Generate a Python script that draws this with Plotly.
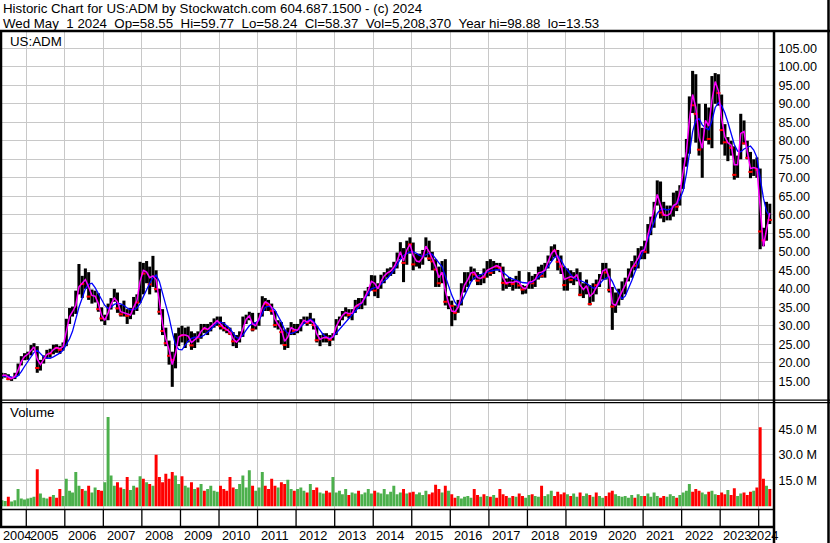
import pandas as pd
import plotly.graph_objects as go

W, H = 830, 543

# ---------------- data (monthly, May 2004 .. Apr 2024) ----------------
first_month = "2004-05-01"

closes = [
    16.5, 16.8, 15.6, 15.7, 16.9, 19.4, 21.0, 22.3,
    22.3, 24.1, 24.5, 18.6, 20.3, 21.4, 22.9, 22.5, 24.6, 24.0, 23.5, 24.7,
    31.5, 33.6, 33.7, 36.3, 41.5, 41.3, 44.0, 37.9, 37.9, 38.5, 34.5, 32.0,
    32.0, 35.5, 36.7, 38.7, 34.7, 33.1, 33.6, 32.7, 33.1, 37.2, 36.3, 46.4,
    44.1, 45.2, 41.2, 44.6, 39.9, 33.8, 28.6, 25.3, 21.9, 20.8, 25.6, 28.8,
    27.4, 27.8, 27.8, 24.7, 27.5, 26.8, 30.3, 29.2, 29.2, 30.1, 31.2, 31.3,
    29.9, 29.4, 28.9, 27.9, 25.8, 25.8, 27.3, 31.9, 31.9, 33.3, 29.0, 30.1,
    32.8, 37.0, 36.0, 35.6, 34.0, 30.2, 30.4, 28.3, 24.8, 28.9, 30.2, 28.6,
    28.6, 31.3, 31.7, 30.8, 31.9, 30.2, 26.1, 26.7, 27.2, 26.8, 26.2, 27.4,
    31.7, 31.7, 33.7, 33.9, 32.9, 33.9, 36.5, 35.4, 36.8, 38.6, 40.3, 43.4,
    39.5, 40.6, 43.4, 43.7, 44.7, 45.0, 46.4, 48.5, 51.1, 47.0, 52.6, 52.0,
    46.6, 47.4, 47.4, 48.9, 52.9, 48.2, 47.4, 45.2, 41.5, 45.7, 36.5, 36.7,
    35.4, 33.5, 36.3, 39.9, 42.8, 42.9, 45.5, 43.9, 42.2, 43.6, 43.1, 45.7,
    44.3, 46.9, 46.0, 45.7, 41.6, 41.4, 42.2, 41.3, 42.5, 40.9, 39.8, 40.1,
    42.9, 41.5, 43.4, 45.4, 43.5, 45.8, 48.3, 50.4, 50.3, 47.3, 46.0, 41.0,
    44.9, 42.4, 43.1, 44.6, 38.4, 40.8, 41.1, 35.9, 41.1, 41.0, 43.0, 46.4,
    44.4, 39.7, 35.2, 37.2, 39.2, 39.9, 42.8, 44.8, 46.5, 46.2, 49.8, 50.4,
    50.0, 56.7, 57.0, 63.1, 66.6, 60.6, 60.0, 60.0, 60.7, 64.2, 62.2, 67.6,
    75.0, 78.4, 90.3, 89.6, 87.3, 77.6, 82.8, 87.9, 80.5, 97.0, 97.6, 92.9,
    82.9, 79.6, 79.7, 78.1, 70.8, 75.6, 85.0, 79.3, 75.4, 71.6, 73.7, 72.2,
    55.5, 53.1, 62.8, 58.6,
]

highs = [
    17.3, 17.2, 16.9, 16.2, 17.3, 19.8, 21.8, 22.6,
    23.0, 24.8, 25.3, 24.5, 20.8, 22.0, 23.5, 23.8, 24.9, 25.0, 24.6, 25.5,
    31.9, 34.8, 35.2, 39.5, 46.7, 43.5, 45.5, 44.5, 39.8, 39.5, 38.8, 35.0,
    33.0, 36.0, 37.5, 40.0, 39.0, 35.7, 36.8, 34.5, 34.8, 37.8, 38.5, 47.3,
    47.0, 47.5, 46.0, 48.9, 45.0, 40.0, 34.5, 29.5, 26.0, 23.0, 28.0, 29.5,
    30.0, 29.5, 29.8, 28.5, 28.0, 28.5, 30.5, 30.5, 30.5, 31.0, 32.0, 32.5,
    32.5, 31.0, 30.0, 29.5, 28.3, 27.5, 28.5, 32.5, 33.0, 33.8, 33.5, 31.0,
    33.5, 38.0, 37.5, 37.0, 36.0, 34.0, 31.5, 31.0, 29.0, 29.5, 31.0, 30.5,
    30.5, 31.8, 32.5, 32.5, 33.5, 32.0, 30.0, 27.5, 28.0, 28.0, 27.5, 28.0,
    31.8, 32.5, 34.0, 35.0, 34.5, 34.5, 37.0, 37.5, 37.5, 39.5, 40.5, 43.7,
    43.6, 41.5, 43.8, 44.5, 45.5, 45.8, 47.3, 49.8, 52.6, 51.0, 53.0, 53.9,
    52.5, 49.5, 49.5, 50.5, 53.9, 53.0, 50.0, 48.0, 46.0, 47.5, 48.0, 38.0,
    36.8, 35.5, 37.0, 41.5, 44.5, 44.5, 46.0, 45.5, 44.5, 44.0, 45.5, 47.5,
    48.0, 47.5, 47.0, 47.0, 46.0, 42.8, 43.2, 42.5, 43.5, 44.8, 41.0, 40.8,
    44.5, 43.5, 44.0, 46.0, 46.5, 47.0, 49.0, 51.5, 52.0, 50.5, 49.0, 46.0,
    45.5, 45.0, 44.5, 45.5, 44.5, 41.5, 42.5, 41.0, 41.5, 42.5, 44.0, 47.0,
    47.0, 45.5, 40.5, 39.0, 40.0, 42.0, 43.0, 45.5, 47.5, 49.0, 51.0, 51.5,
    53.0, 57.5, 59.5, 63.5, 69.3, 69.0, 63.5, 62.5, 62.5, 66.0, 66.5, 68.0,
    75.5, 80.5, 92.0, 98.9, 98.0, 90.0, 83.5, 90.0, 89.0, 97.5, 98.3, 98.0,
    92.5, 84.5, 81.0, 80.0, 78.5, 76.0, 87.3, 85.5, 80.0, 77.0, 75.0, 75.5,
    72.5, 56.5, 63.5, 63.0,
]

lows = [
    15.7, 16.0, 15.3, 15.1, 15.6, 16.5, 19.3, 20.7,
    20.8, 22.0, 23.3, 17.3, 17.9, 19.8, 21.1, 21.4, 22.3, 22.7, 22.4, 23.3,
    24.5, 30.5, 32.5, 33.2, 38.5, 37.5, 40.0, 37.0, 36.0, 36.3, 33.8, 31.2,
    30.2, 31.5, 34.4, 36.5, 33.5, 32.5, 32.5, 30.5, 31.8, 33.0, 34.0, 36.2,
    38.5, 41.5, 38.5, 40.5, 39.0, 33.0, 27.5, 24.5, 19.5, 13.5, 18.5, 24.5,
    25.5, 24.0, 25.5, 23.5, 24.0, 25.5, 26.5, 28.0, 27.5, 28.5, 29.5, 30.0,
    29.0, 28.5, 28.0, 27.5, 24.5, 24.0, 25.5, 27.0, 30.5, 31.5, 28.5, 29.0,
    30.0, 32.5, 34.0, 34.0, 33.0, 29.5, 29.0, 25.0, 23.5, 24.0, 27.5, 27.5,
    28.0, 28.5, 30.5, 30.0, 30.5, 29.0, 25.5, 24.5, 25.5, 25.5, 24.5, 26.0,
    27.5, 30.0, 31.5, 32.5, 32.0, 31.5, 33.5, 34.5, 34.5, 35.5, 38.0, 39.5,
    38.0, 37.5, 40.0, 41.5, 43.0, 43.5, 44.0, 45.5, 48.0, 41.8, 46.5, 49.5,
    45.0, 46.0, 45.5, 46.5, 48.5, 47.5, 45.0, 40.5, 40.5, 41.5, 35.5, 34.5,
    29.9, 31.5, 33.5, 35.5, 39.0, 40.5, 42.0, 42.5, 41.0, 41.0, 41.5, 43.0,
    43.5, 44.0, 45.0, 44.5, 39.5, 40.0, 40.5, 39.5, 40.0, 40.0, 38.5, 38.7,
    40.0, 40.0, 40.5, 42.5, 43.0, 43.0, 45.5, 47.5, 48.5, 45.0, 44.0, 39.5,
    39.5, 41.5, 41.0, 42.0, 38.0, 37.5, 38.5, 35.5, 36.5, 38.5, 40.5, 42.5,
    42.5, 39.0, 28.9, 33.5, 35.5, 37.0, 38.5, 42.0, 43.0, 45.0, 45.5, 48.0,
    48.0, 49.5, 54.5, 56.5, 62.5, 59.0, 58.0, 58.5, 58.5, 59.5, 61.0, 62.5,
    67.0, 73.0, 76.5, 87.5, 79.5, 76.0, 70.0, 80.0, 79.0, 78.0, 90.0, 89.5,
    79.0, 76.0, 74.5, 76.0, 69.5, 70.0, 75.0, 79.0, 75.0, 69.9, 70.5, 70.0,
    50.7, 51.5, 53.0, 57.5,
]

ma_short = [
    16.6, 16.7, 16.1, 15.7, 16.3, 18.0, 20.3, 21.7,
    22.3, 23.4, 24.3, 21.0, 19.5, 20.9, 22.3, 22.6, 23.6, 24.1, 23.8, 24.3,
    28.5, 32.5, 33.8, 35.5, 40.5, 41.5, 42.5, 40.5, 38.2, 38.0, 36.0, 32.8,
    31.5, 33.5, 35.8, 37.5, 36.5, 33.8, 33.5, 33.0, 32.9, 35.0, 36.8, 42.0,
    45.0, 44.5, 43.0, 43.5, 42.5, 36.5, 30.5, 26.5, 23.5, 19.5, 22.5, 27.0,
    27.5, 27.5, 27.2, 25.5, 26.3, 27.0, 28.5, 29.5, 29.0, 29.8, 30.8, 31.4,
    30.5, 29.5, 29.0, 28.3, 26.5, 25.6, 26.5, 29.5, 31.8, 32.7, 30.5, 30.0,
    32.0, 35.0, 36.5, 36.0, 35.0, 31.8, 30.3, 29.0, 25.8, 27.0, 29.5, 29.0,
    28.8, 30.3, 31.5, 31.0, 31.5, 30.8, 27.8, 26.3, 26.8, 26.9, 26.4, 27.0,
    29.8, 31.5, 32.8, 33.6, 33.3, 33.4, 35.2, 35.8, 36.2, 37.8, 39.6, 42.0,
    41.5, 40.0, 42.0, 43.5, 44.3, 44.8, 45.8, 47.5, 50.0, 47.5, 50.5, 52.0,
    49.0, 47.5, 47.3, 48.5, 51.5, 50.0, 47.8, 46.0, 43.0, 44.5, 39.5, 36.2,
    34.0, 33.8, 35.0, 38.0, 41.0, 42.5, 44.3, 44.5, 43.0, 42.8, 43.4, 45.0,
    45.5, 45.8, 46.3, 45.8, 43.0, 41.5, 41.8, 41.7, 42.0, 41.7, 40.3, 40.0,
    41.8, 42.0, 42.5, 44.3, 44.5, 45.0, 47.2, 49.5, 50.5, 48.5, 46.3, 42.5,
    43.0, 43.3, 43.0, 43.8, 41.0, 39.8, 40.8, 38.0, 38.8, 40.5, 42.0, 44.8,
    45.3, 43.0, 36.0, 35.5, 37.5, 39.3, 41.0, 43.5, 45.5, 46.8, 48.3, 50.2,
    50.5, 54.5, 57.5, 61.5, 65.5, 63.0, 60.0, 59.8, 60.3, 62.5, 63.0, 66.0,
    71.5, 77.0, 85.5, 92.5, 89.0, 81.0, 78.0, 85.5, 84.0, 91.0, 96.0, 93.5,
    86.0, 81.0, 79.5, 78.8, 73.5, 73.5, 82.0, 82.5, 77.0, 72.5, 72.8, 72.5,
    62.0, 51.5, 56.0, 60.5,
]

ma_long = [
    16.4, 16.5, 16.4, 16.1, 16.0, 16.5, 17.6, 19.0,
    20.3, 21.6, 22.8, 23.4, 22.6, 21.6, 21.3, 21.2, 21.6, 22.1, 22.6, 23.4,
    24.8, 26.5, 28.5, 32.0, 35.0, 37.5, 40.0, 41.2, 41.5, 40.3, 38.8, 37.0,
    35.5, 34.7, 35.0, 35.8, 36.1, 35.9, 35.5, 34.8, 34.3, 34.4, 34.8, 36.0,
    38.0, 39.7, 41.5, 43.0, 43.7, 42.0, 38.8, 35.5, 32.3, 28.3, 24.8, 23.6,
    23.5, 24.8, 25.9, 26.6, 26.9, 26.9, 27.0, 27.5, 28.2, 29.0, 30.0, 30.8,
    31.0, 30.7, 30.0, 29.2, 28.0, 26.8, 26.6, 27.5, 28.8, 30.0, 30.6, 30.8,
    31.5, 33.5, 35.0, 35.3, 35.0, 34.2, 32.8, 31.0, 28.9, 28.0, 27.9, 28.2,
    28.8, 29.8, 30.6, 31.3, 31.8, 31.2, 30.0, 28.6, 27.6, 26.9, 26.7, 27.0,
    28.0, 29.0, 30.0, 31.2, 32.0, 33.0, 34.0, 35.0, 36.2, 37.5, 38.8, 40.0,
    40.3, 40.5, 41.2, 42.2, 42.8, 43.8, 45.0, 46.5, 48.0, 49.0, 49.6, 50.0,
    50.0, 49.6, 49.0, 48.7, 49.2, 49.6, 49.3, 48.3, 47.0, 46.0, 43.5, 40.6,
    38.3, 36.3, 35.3, 36.3, 38.0, 40.0, 41.8, 43.0, 43.5, 43.8, 44.2, 44.6,
    44.8, 45.0, 45.2, 45.1, 44.5, 43.7, 43.0, 42.6, 42.4, 42.0, 41.7, 41.5,
    41.5, 41.8, 42.4, 43.2, 44.0, 45.0, 46.0, 47.3, 48.5, 48.9, 47.8, 46.2,
    45.0, 44.0, 42.8, 42.6, 42.3, 41.9, 41.5, 40.8, 40.2, 40.4, 41.2, 42.3,
    42.8, 43.3, 42.0, 40.0, 38.8, 37.3, 38.0, 40.0, 42.2, 44.5, 47.0, 49.0,
    51.0, 53.5, 55.8, 58.2, 60.4, 61.5, 61.6, 61.3, 61.5, 62.2, 63.0, 64.2,
    66.5, 71.0, 77.0, 82.5, 85.6, 86.0, 84.3, 83.5, 83.0, 85.5, 89.0, 90.3,
    89.5, 87.5, 85.0, 82.0, 79.0, 77.2, 77.0, 77.8, 78.3, 78.6, 77.5, 75.5,
    70.0, 64.5, 61.0, 59.5,
]

volumes_m = [
    3.5, 3.0, 5.5, 2.8, 3.5, 10.0, 4.5, 4.0,
    4.5, 5.0, 5.5, 21.5, 7.5, 5.0, 4.5, 5.5, 6.5, 5.0, 10.0, 6.0,
    16.0, 9.0, 8.0, 20.0, 12.0, 10.0, 9.0, 12.0, 8.0, 11.0, 9.5, 9.0,
    14.0, 52.0, 18.0, 12.0, 14.0, 11.0, 10.0, 17.0, 9.5, 12.0, 11.0, 17.5,
    16.0, 14.0, 13.0, 12.0, 30.0, 17.0, 14.0, 19.0, 16.0, 20.0, 18.0, 13.0,
    17.5, 12.0, 11.0, 14.0, 10.0, 11.0, 13.0, 9.0, 10.0, 12.0, 9.0, 8.5,
    12.0, 10.0, 9.0, 17.0, 11.0, 10.0, 13.0, 18.0, 11.0, 21.0, 12.0, 9.0,
    11.0, 20.0, 12.0, 10.0, 16.0, 12.0, 11.0, 14.0, 13.0, 15.5, 10.0, 9.0,
    10.0, 11.0, 9.0, 8.0, 13.0, 9.5, 11.0, 8.0, 7.5, 9.0, 8.0, 17.0,
    8.0, 9.0, 7.0, 10.0, 6.5, 8.0, 7.5, 9.0, 7.0, 8.0, 10.0, 7.5,
    9.0, 8.0, 7.5, 10.0, 7.0, 8.5, 12.0, 7.0, 8.0, 10.0, 7.5, 8.0,
    8.5, 7.0, 8.0, 6.5, 9.0, 7.0, 8.0, 12.5, 10.0, 8.0, 12.0, 9.0,
    7.0, 5.0, 6.0, 4.5, 5.5, 6.0, 5.0, 10.0, 6.5, 5.5, 7.0, 6.0,
    5.5, 6.5, 5.0, 10.0, 7.0, 6.0, 5.0, 6.0, 5.5, 7.5, 6.0, 5.0,
    6.5, 7.0, 6.0, 5.5, 12.0, 6.0, 7.0, 9.0, 6.0, 8.5, 7.0, 8.0,
    7.0, 6.0, 7.5, 5.5, 8.0, 6.0, 7.5, 6.5, 5.5, 8.0, 6.0, 5.0,
    6.0, 8.0, 9.0, 7.0, 6.0, 5.5, 6.0, 5.0, 6.5, 5.0, 7.0, 6.0,
    6.0, 7.5, 5.5, 8.0, 6.0, 5.0, 6.0, 5.5, 7.0, 6.0, 5.0, 6.5,
    8.0, 9.0, 13.0, 8.5, 10.0, 9.0, 8.0, 7.0, 8.5, 9.0, 7.0, 6.5,
    8.0, 7.0, 9.5, 6.5, 10.5, 6.0, 7.5, 8.0, 6.5, 8.5, 9.0, 11.0,
    46.0, 16.0, 12.0, 10.0,
]

price_ticks = [15, 20, 25, 30, 35, 40, 45, 50, 55, 60, 65, 70, 75, 80, 85, 90, 95, 100, 105]
volume_ticks = [15, 30, 45]
years = list(range(2004, 2025))

header_1 = "Historic Chart for US:ADM by Stockwatch.com 604.687.1500 - (c) 2024"
header_2 = ("Wed May  1 2024  Op=58.55  Hi=59.77  Lo=58.24  Cl=58.37  "
            "Vol=5,208,370  Year hi=98.88  lo=13.53")

# ---------------- layout helpers ----------------
def px(x):
    return x / W


def py(y):
    return 1 - y / H


FONT = "Liberation Sans, Arial, sans-serif"
GRID = "#c8c8c8"
GREEN = "#4cb04c"
RED = "#ff0000"
x_start = pd.Timestamp("2004-04-27")
x_end = pd.Timestamp("2024-05-25")
DAY_MS = 86400000

months = pd.date_range(first_month, periods=len(closes), freq="MS") + pd.Timedelta(days=14)
up = [True] + [closes[i] >= closes[i - 1] for i in range(1, len(closes))]
year_starts = [pd.Timestamp(f"{y}-01-01") for y in years[1:]]

fig = go.Figure()

# price range bars (low -> high)
fig.add_trace(go.Bar(
    x=months, y=[h - l for h, l in zip(highs, lows)], base=lows,
    width=29 * DAY_MS, marker=dict(color="black", line=dict(width=0)),
    xaxis="x", yaxis="y", hoverinfo="skip"))
# red close ticks on down months
fig.add_trace(go.Scatter(
    x=[m for m, u in zip(months, up) if not u],
    y=[c for c, u in zip(closes, up) if not u],
    mode="markers",
    marker=dict(symbol="line-ew", size=3, line=dict(width=2, color=RED)),
    xaxis="x", yaxis="y", hoverinfo="skip"))
# moving averages
fig.add_trace(go.Scatter(x=months, y=ma_long, mode="lines",
                         line=dict(color="#0000ff", width=1.3),
                         xaxis="x", yaxis="y", hoverinfo="skip"))
fig.add_trace(go.Scatter(x=months, y=ma_short, mode="lines",
                         line=dict(color="#ff00ff", width=1.5),
                         xaxis="x", yaxis="y", hoverinfo="skip"))
# volume
fig.add_trace(go.Bar(
    x=months, y=volumes_m, width=28 * DAY_MS,
    marker=dict(color=[GREEN if u else RED for u in up], line=dict(width=0)),
    xaxis="x2", yaxis="y2", hoverinfo="skip"))

x_common = dict(type="date", range=[x_start, x_end], domain=[0, px(774)],
                tickvals=year_starts, showticklabels=False, ticks="",
                showgrid=True, gridcolor=GRID, gridwidth=1,
                zeroline=False, showline=False, fixedrange=True)

tickfont = dict(family=FONT, size=12.6, color="#000000")

fig.update_layout(
    width=W, height=H, margin=dict(l=0, r=0, t=0, b=0),
    paper_bgcolor="white", plot_bgcolor="white",
    showlegend=False, barmode="overlay",
    xaxis=dict(anchor="y", **x_common),
    xaxis2=dict(anchor="y2", matches="x", **x_common),
    yaxis=dict(domain=[py(400), py(32)], range=[9.946, 109.405], side="right",
               anchor="x", tickvals=price_ticks,
               ticktext=[f"{v:.2f}" for v in price_ticks],
               ticks="outside", ticklen=1, tickcolor="rgba(0,0,0,0)",
               tickfont=tickfont, showgrid=True, gridcolor=GRID,
               zeroline=False, showline=False, fixedrange=True),
    yaxis2=dict(domain=[py(509.5), py(402.5)], range=[-1.9, 60.5], side="right",
                anchor="x2", tickvals=volume_ticks,
                ticktext=[f"{v:.1f} M" for v in volume_ticks],
                ticks="outside", ticklen=1, tickcolor="rgba(0,0,0,0)",
                tickfont=tickfont, showgrid=True, gridcolor=GRID,
                zeroline=False, showline=False, fixedrange=True),
)

shapes = []


def hline(y, x0, x1, w):
    shapes.append(dict(type="line", xref="paper", yref="paper",
                       x0=px(x0), x1=px(x1), y0=py(y), y1=py(y),
                       line=dict(color="black", width=w), layer="above"))


def vline(x, y0, y1, w):
    shapes.append(dict(type="line", xref="paper", yref="paper",
                       x0=px(x), x1=px(x), y0=py(y0), y1=py(y1),
                       line=dict(color="black", width=w), layer="above"))


hline(31, 0, W, 2.5)          # header separator
hline(400.2, 0, W, 1.2)       # double separator price/volume
hline(402.6, 0, W, 1.2)
hline(509.5, 0, 774, 1.5)     # volume bottom
hline(527, 0, 774, 2.5)       # year label row top
vline(1, 31, 527, 2.5)        # left frame
vline(774, 31, H, 2.5)        # axis separator
vline(828.5, 0, H, 2.5)       # right frame

# year dividers in the strip under the volume panel
for ys in year_starts:
    shapes.append(dict(type="line", xref="x", yref="paper", x0=ys, x1=ys,
                       y0=py(527), y1=py(509.5),
                       line=dict(color="black", width=1.3), layer="above"))

fig.update_layout(shapes=shapes)

annotations = []
nb = "\u00a0"
for txt, yy in [(header_1, 8.5), (header_2, 23)]:
    annotations.append(dict(text=txt.replace(" ", nb), xref="paper", yref="paper",
                            x=px(0.5), y=py(yy), xanchor="left", yanchor="middle",
                            showarrow=False, font=dict(family=FONT, size=13.3, color="black")))
annotations.append(dict(text="US:ADM", xref="paper", yref="paper", x=px(8), y=py(41.5),
                        xanchor="left", yanchor="middle", showarrow=False,
                        font=dict(family=FONT, size=13.3, color="black")))
annotations.append(dict(text="Volume", xref="paper", yref="paper", x=px(8), y=py(413),
                        xanchor="left", yanchor="middle", showarrow=False,
                        font=dict(family=FONT, size=13.3, color="black")))

# year labels centred in the visible part of each year
for y in years:
    a = max(pd.Timestamp(f"{y}-01-01"), x_start)
    b = min(pd.Timestamp(f"{y + 1}-01-01"), x_end)
    if a == x_start:
        # partly visible first year: keep the label inside the picture
        ann = dict(x=a, xanchor="left", xshift=1)
    else:
        ann = dict(x=a + (b - a) / 2, xanchor="center", xshift=-2)
    annotations.append(dict(text=str(y), xref="x", yref="paper", y=py(535),
                            yanchor="middle", showarrow=False,
                            font=dict(family=FONT, size=12.8, color="black"), **ann))

fig.update_layout(annotations=annotations)

fig.write_html(
    "out.html",
    config={"displayModeBar": False, "staticPlot": True},
    post_script="document.body.style.margin='0';document.body.style.padding='0';",
)
